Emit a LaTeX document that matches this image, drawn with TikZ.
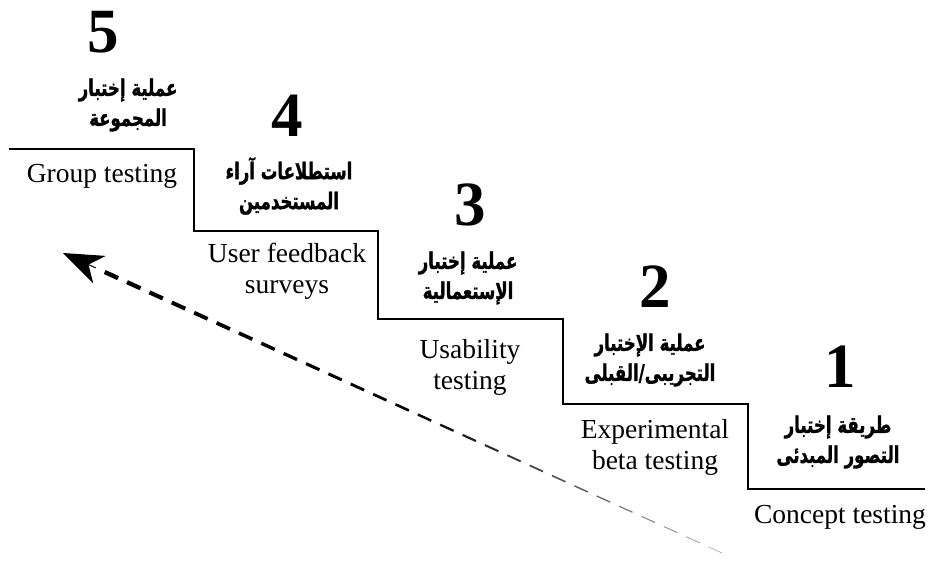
\documentclass[tikz,border=0pt]{standalone}
\usepackage{fontspec}
\setmainfont{Liberation Serif}
\newfontfamily\arabicfont[Script=Arabic,FakeStretch=0.72,FakeBold=1.2]{DejaVu Sans}
\TeXXeTstate=1
\usetikzlibrary{arrows.meta,calc}
\tikzset{
  stairline/.style={line width=1.7pt, line join=miter},
  stepnum/.style={font=\bfseries\fontsize{63}{63}\selectfont, inner sep=0pt},
  arlabel/.style={font=\arabicfont\bfseries\fontsize{23}{30}\selectfont, align=center, inner sep=0pt},
  enlabel/.style={font=\fontsize{27.5}{31}\selectfont, align=center, inner sep=0pt},
}
\begin{document}
\begin{tikzpicture}[x=1pt,y=-1pt]
\useasboundingbox (0,0) rectangle (930,574);

% staircase outline
\draw[stairline] (9,149) -- (194,149) -- (194,231) -- (378,231) -- (378,319)
  -- (563,319) -- (563,404) -- (748,404) -- (748,489) -- (925,489);

% step 5
\node[stepnum] (n5) at (103,32) {5};
\node[arlabel] (a5) at (128,105) {\beginR عملية إختبار\endR\\\beginR المجموعة\endR};
\node[enlabel] (e5) at (102,176) {Group testing};

% step 4
\node[stepnum] (n4) at (287,116) {4};
\node[arlabel] (a4) at (289,186) {\beginR استطلاعات آراء\endR\\\beginR المستخدمين\endR};
\node[enlabel] (e4) at (287,271) {User feedback\\surveys};

% step 3
\node[stepnum] (n3) at (470,205) {3};
\node[arlabel] (a3) at (468,278) {\beginR عملية إختبار\endR\\\beginR الإستعمالية\endR};
\node[enlabel] (e3) at (470,367) {Usability\\testing};

% step 2
\node[stepnum] (n2) at (655,287) {2};
\node[arlabel] (a2) at (650,360) {\beginR عملية الإختبار\endR\\\beginR التجريبى/القبلى\endR};
\node[enlabel] (e2) at (655,447) {Experimental\\beta testing};

% step 1
\node[stepnum] (n1) at (840,367) {1};
\node[arlabel] (a1) at (838,442) {\beginR طريقة إختبار\endR\\\beginR التصور المبدئى\endR};
\node[enlabel] (e1) at (840,517) {Concept testing};

% tapering dashed progress arrow
\coordinate (tail) at (722,553);
\coordinate (tip) at (63,253);
\coordinate (hb) at ($(tip)!36pt!(tail)$);
\foreach \i in {0,...,27}{
  \pgfmathsetmacro\ta{\i/28}
  \pgfmathsetmacro\tb{(\i+0.6)/28}
  \pgfmathsetmacro\w{0.6+3.8*\i/27}
  \pgfmathsetmacro\c{min(100,35+130*\i/27)}
  \draw[line width=\w pt, draw=black!\c] ($(tail)!\ta!(hb)$) -- ($(tail)!\tb!(hb)$);
}
\draw[line width=1pt, -{Stealth[length=40pt,width=30pt,inset=12pt]}] (hb) -- (tip);
\end{tikzpicture}
\end{document}
